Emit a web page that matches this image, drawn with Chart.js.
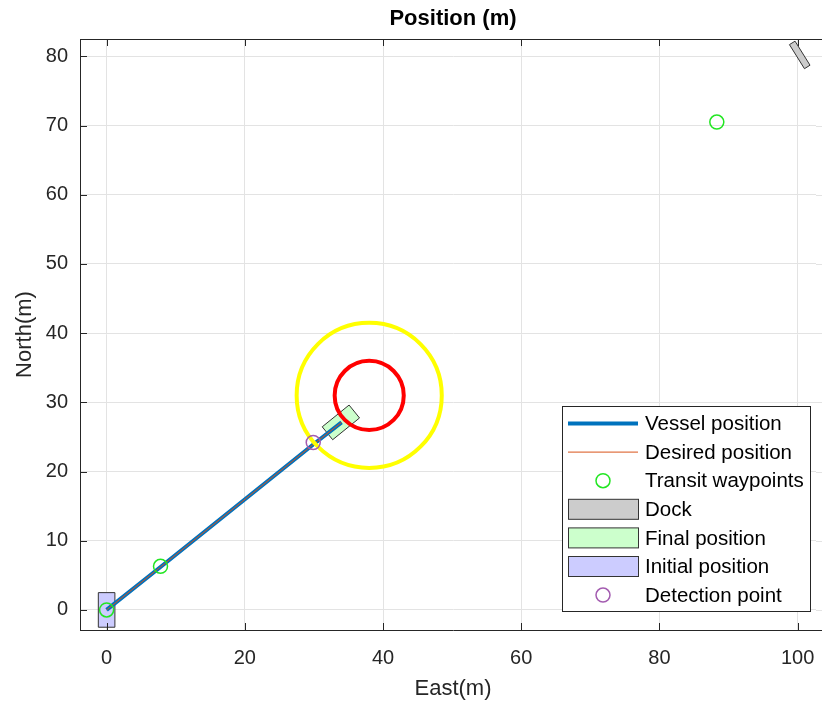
<!DOCTYPE html>
<html>
<head>
<meta charset="utf-8">
<script src="https://cdn.jsdelivr.net/npm/chart.js@4/dist/chart.umd.min.js"></script>
<style>
  html, body { margin: 0; padding: 0; background: #fff; overflow: hidden; }
  canvas { display: block; }
</style>
</head>
<body>
<canvas id="c" width="840" height="704"></canvas>
<script>
// Vessel track (East, North) in metres
const vesselEast = [0, 7.8, 29.9, 34.0];
const vesselNorth = [0, 6.2, 23.9, 27.1];
const desiredEast = [0, 7.8, 29.9, 34.0];
const desiredNorth = [0, 6.2, 23.9, 27.1];
const waypointEast = [0, 7.8, 88.3];
const waypointNorth = [0, 6.3, 70.5];
const detectionEast = [29.9];
const detectionNorth = [24.2];

// Footprints: [centre East, centre North, heading deg from East, length, beam]
const dockPose = [100.3, 80.2, -58, 4.1, 0.95];
const finalPose = [33.9, 27.1, 39, 5.0, 2.4];
const initialPose = [0, 0, 90, 5.0, 2.4];

// Obstacle zone: centre and ring radii (inner, outer)
const obstacleCentre = [38, 31];
const obstacleRadii = [5, 10.5];

const xTicks = [0, 20, 40, 60, 80, 100];
const yTicks = [0, 10, 20, 30, 40, 50, 60, 70, 80];
const xRange = [-3.85, 104.1];
const yRange = [-2.9, 82.5];

const legendLabels = ['Vessel position', 'Desired position', 'Transit waypoints', 'Dock',
                      'Final position', 'Initial position', 'Detection point'];

const FONT = "'Liberation Sans', Arial, Helvetica, sans-serif";
const AXIS = '#262626';
const GRID = '#e3e3e3';
const C_VESSEL = '#0072BD';
const C_DESIRED = '#D95319';
const C_WAYPOINT = '#22e622';
const C_DETECT = '#a35cb0';
const F_DOCK = '#cccccc';
const F_FINAL = '#ccffcc';
const F_INITIAL = '#ccccff';
const EDGE = '#333333';

const toPts = (xs, ys) => xs.map((x, i) => ({ x, y: ys[i] }));

function footprint(pose) {
  const [cx, cy, hdg, len, beam] = pose;
  const a = hdg * Math.PI / 180;
  const ux = Math.cos(a), uy = Math.sin(a);
  const vx = -uy, vy = ux;
  const hl = len / 2, hb = beam / 2;
  return [
    [cx + ux * hl + vx * hb, cy + uy * hl + vy * hb],
    [cx + ux * hl - vx * hb, cy + uy * hl - vy * hb],
    [cx - ux * hl - vx * hb, cy - uy * hl - vy * hb],
    [cx - ux * hl + vx * hb, cy - uy * hl + vy * hb]
  ];
}

function clipArea(ctx, a) {
  ctx.beginPath();
  ctx.rect(a.left, a.top, a.right - a.left, a.bottom - a.top);
  ctx.clip();
  ctx.beginPath();
}

const scenePlugin = {
  id: 'scene',
  beforeDatasetsDraw(chart) {
    const { ctx, chartArea: a, scales: { x, y } } = chart;
    ctx.save();
    clipArea(ctx, a);
    [[dockPose, F_DOCK], [finalPose, F_FINAL], [initialPose, F_INITIAL]].forEach(([p, fill]) => {
      ctx.beginPath();
      footprint(p).forEach(([e, n], i) => {
        const px = x.getPixelForValue(e), py = y.getPixelForValue(n);
        i ? ctx.lineTo(px, py) : ctx.moveTo(px, py);
      });
      ctx.closePath();
      ctx.fillStyle = fill;
      ctx.fill();
      ctx.lineWidth = 1;
      ctx.strokeStyle = EDGE;
      ctx.stroke();
    });
    ctx.restore();
  },
  afterDatasetDraw(chart, args) {
    if (args.index !== 1) return;
    const { ctx, chartArea: a, scales: { x, y } } = chart;
    const cx = x.getPixelForValue(obstacleCentre[0]);
    const cy = y.getPixelForValue(obstacleCentre[1]);
    const unit = x.getPixelForValue(1) - x.getPixelForValue(0);
    ctx.save();
    clipArea(ctx, a);
    ctx.lineWidth = 4;
    [[obstacleRadii[1], '#ffff00'], [obstacleRadii[0], '#ff0000']].forEach(([r, col]) => {
      ctx.beginPath();
      ctx.arc(cx, cy, r * unit, 0, Math.PI * 2);
      ctx.strokeStyle = col;
      ctx.stroke();
    });
    ctx.restore();
  },
  afterDraw(chart) {
    const { ctx, chartArea: a, scales: { x, y } } = chart;
    ctx.save();

    // keep the open right side of the axes box clean, then restore grid rows there
    ctx.fillStyle = '#fff';
    ctx.fillRect(816, a.top + 1, chart.width - 816, a.bottom - a.top - 1.5);
    ctx.strokeStyle = GRID;
    ctx.lineWidth = 1;
    ctx.beginPath();
    yTicks.forEach(v => {
      const py = Math.round(y.getPixelForValue(v)) + 0.5;
      ctx.moveTo(816, py); ctx.lineTo(chart.width, py);
    });
    ctx.stroke();

    // axes box top edge and inward tick marks
    ctx.strokeStyle = AXIS;
    ctx.lineWidth = 1;
    ctx.beginPath();
    ctx.moveTo(a.left, a.top + 0.5); ctx.lineTo(chart.width, a.top + 0.5);
    xTicks.forEach(v => {
      const px = Math.round(x.getPixelForValue(v)) + 0.5;
      ctx.moveTo(px, a.bottom); ctx.lineTo(px, a.bottom - 7);
      ctx.moveTo(px, a.top); ctx.lineTo(px, a.top + 7);
    });
    yTicks.forEach(v => {
      const py = Math.round(y.getPixelForValue(v)) + 0.5;
      ctx.moveTo(a.left, py); ctx.lineTo(a.left + 7, py);
    });
    ctx.stroke();

    // title and axis labels, centred over the axes box
    const midX = (a.left + a.right) / 2;
    ctx.fillStyle = '#000';
    ctx.font = 'bold 22px ' + FONT;
    ctx.textAlign = 'center';
    ctx.textBaseline = 'middle';
    ctx.fillText('Position (m)', midX, 19);
    ctx.fillStyle = AXIS;
    ctx.font = '22px ' + FONT;
    ctx.fillText('East(m)', midX, 689);
    ctx.save();
    ctx.translate(25, (a.top + a.bottom) / 2);
    ctx.rotate(-Math.PI / 2);
    ctx.fillText('North(m)', 0, 0);
    ctx.restore();

    // legend
    const L = { left: 562.5, top: 406.5, right: 810.5, bottom: 611.5 };
    ctx.fillStyle = '#fff';
    ctx.fillRect(L.left, L.top, L.right - L.left, L.bottom - L.top);
    ctx.strokeStyle = AXIS;
    ctx.lineWidth = 1;
    ctx.strokeRect(L.left, L.top, L.right - L.left, L.bottom - L.top);
    const sx0 = 568, sx1 = 638, mx = 603, tx = 645;
    legendLabels.forEach((lab, i) => {
      const ry = 423.5 + i * 28.6;
      ctx.save();
      if (i === 0 || i === 1) {
        ctx.beginPath();
        ctx.moveTo(sx0, ry); ctx.lineTo(sx1, ry);
        ctx.strokeStyle = i === 0 ? C_VESSEL : C_DESIRED;
        ctx.lineWidth = i === 0 ? 4 : 1;
        ctx.stroke();
      } else if (i === 2 || i === 6) {
        ctx.beginPath();
        ctx.arc(mx, ry, 7, 0, Math.PI * 2);
        ctx.strokeStyle = i === 2 ? C_WAYPOINT : C_DETECT;
        ctx.lineWidth = 1.5;
        ctx.stroke();
      } else {
        const fill = i === 3 ? F_DOCK : i === 4 ? F_FINAL : F_INITIAL;
        ctx.fillStyle = fill;
        ctx.fillRect(sx0 + 0.5, ry - 10, sx1 - sx0, 20);
        ctx.strokeStyle = EDGE;
        ctx.lineWidth = 1;
        ctx.strokeRect(sx0 + 0.5, ry - 10, sx1 - sx0, 20);
      }
      ctx.restore();
      ctx.fillStyle = '#000';
      ctx.font = '20.5px ' + FONT;
      ctx.textAlign = 'left';
      ctx.textBaseline = 'middle';
      ctx.fillText(lab, tx, ry + 1);
    });
    ctx.restore();
  }
};

new Chart(document.getElementById('c'), {
  type: 'scatter',
  data: {
    datasets: [
      { label: legendLabels[0], type: 'line', data: toPts(vesselEast, vesselNorth),
        borderColor: C_VESSEL, borderWidth: 4, pointRadius: 0, fill: false, order: 4 },
      { label: legendLabels[1], type: 'line', data: toPts(desiredEast, desiredNorth),
        borderColor: C_DESIRED, borderWidth: 1, pointRadius: 0, fill: false, order: 3 },
      { label: legendLabels[2], data: toPts(waypointEast, waypointNorth),
        pointRadius: 7, pointBorderWidth: 1.5, pointBorderColor: C_WAYPOINT,
        pointBackgroundColor: 'rgba(0,0,0,0)', order: 2 },
      { label: legendLabels[6], data: toPts(detectionEast, detectionNorth),
        pointRadius: 7, pointBorderWidth: 1.5, pointBorderColor: C_DETECT,
        pointBackgroundColor: 'rgba(0,0,0,0)', order: 1 }
    ]
  },
  options: {
    responsive: false,
    animation: false,
    events: [],
    layout: { autoPadding: false, padding: { top: 39, right: 14, bottom: 0, left: 0 } },
    plugins: { legend: { display: false }, title: { display: false }, tooltip: { enabled: false } },
    scales: {
      x: {
        type: 'linear', position: 'bottom', min: xRange[0], max: xRange[1],
        afterBuildTicks: s => { s.ticks = xTicks.map(v => ({ value: v })); },
        afterFit: s => { s.height = 74; s.paddingLeft = 0; s.paddingRight = 0; },
        grid: { color: GRID, lineWidth: 1, drawTicks: false },
        border: { color: AXIS, width: 1 },
        ticks: { color: AXIS, font: { family: FONT, size: 20 }, padding: 16, maxRotation: 0 }
      },
      y: {
        type: 'linear', position: 'left', min: yRange[0], max: yRange[1],
        afterBuildTicks: s => { s.ticks = yTicks.map(v => ({ value: v })); },
        afterFit: s => { s.width = 80; s.paddingTop = 0; s.paddingBottom = 0; },
        grid: { color: GRID, lineWidth: 1, drawTicks: false },
        border: { color: AXIS, width: 1 },
        ticks: { color: AXIS, font: { family: FONT, size: 20 }, padding: 12 }
      }
    }
  },
  plugins: [scenePlugin]
});
</script>
</body>
</html>
